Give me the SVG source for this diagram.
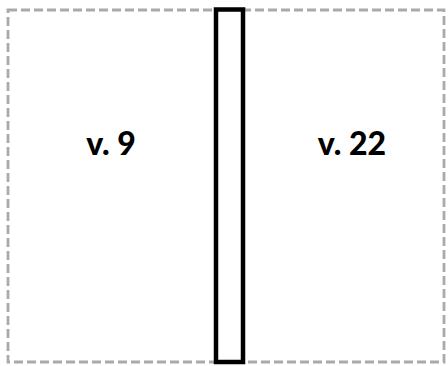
<svg xmlns="http://www.w3.org/2000/svg" width="448" height="366" viewBox="0 0 448 366">
<style>
.lbl{font-family:Lato,"DejaVu Sans",sans-serif;font-weight:900;font-size:32px;fill:#000;text-anchor:middle}
</style>
<rect width="448" height="366" fill="#fff"/>
<g id="frame">
<rect x="8" y="10" width="436" height="352" fill="none" stroke="#aaaaaa" stroke-width="2.8" stroke-dasharray="9 4"/>
</g>
<g id="left"><text class="lbl" x="111" y="155">v. 9</text></g>
<g id="right"><text class="lbl" x="352" y="155">v. 22</text></g>
<g id="divider">
<rect x="216" y="9.5" width="27" height="352.5" fill="#fff" stroke="#000" stroke-width="4.5"/>
</g>
<g id="connectors"/>
</svg>
